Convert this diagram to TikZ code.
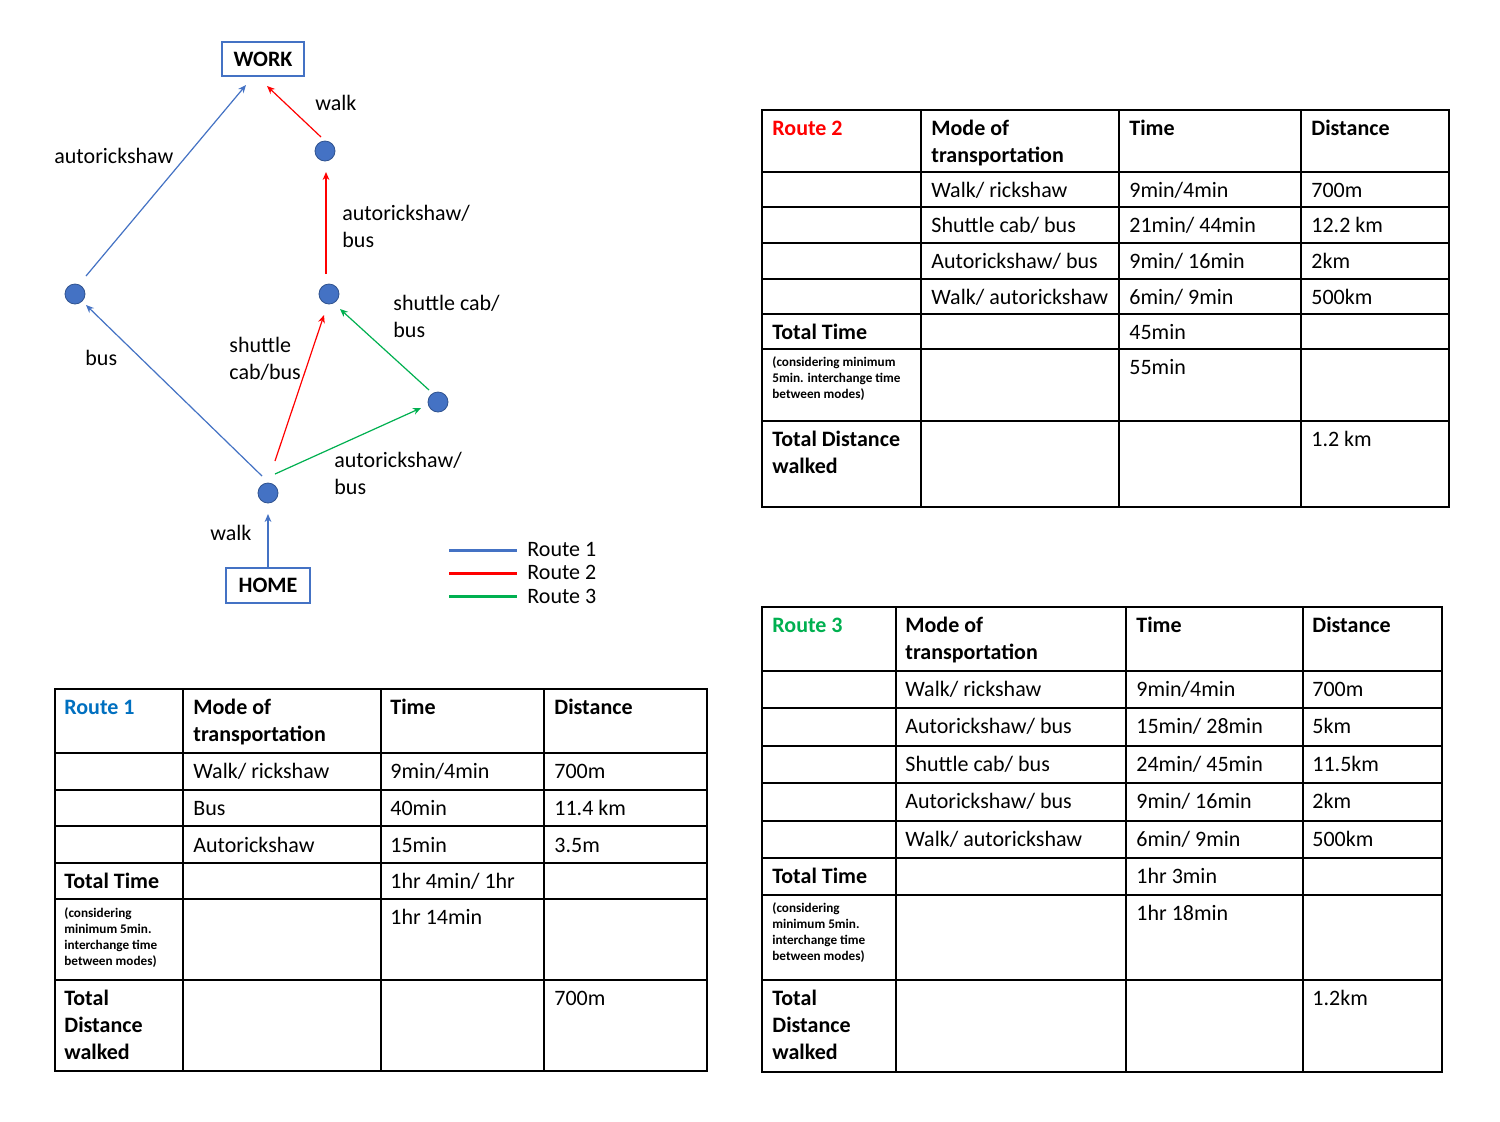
\documentclass[tikz,border=0pt]{standalone}
\usepackage{fontspec}
\setmainfont{Carlito}
\usetikzlibrary{arrows.meta,calc}
\definecolor{obl}{HTML}{4472C4}
\definecolor{cdark}{HTML}{2F528F}
\definecolor{rred}{HTML}{FF0000}
\definecolor{rgreen}{HTML}{00B050}
\definecolor{rblue}{HTML}{0070C0}
\tikzset{
 txt/.style={anchor=base west, inner sep=0pt, font=\fontsize{11}{13.5}\selectfont, align=left},
 btxt/.style={txt, font=\fontsize{11}{13.5}\selectfont\bfseries},
 stxt/.style={txt, font=\fontsize{6.6}{8}\selectfont\bfseries},
 hub/.style={circle, fill=obl, draw=cdark, line width=0.4pt, minimum size=10pt, inner sep=0pt},
 endbox/.style={draw=obl, line width=0.7pt, font=\fontsize{11}{13.5}\selectfont\bfseries, minimum width=41pt, minimum height=17pt, inner sep=0pt},
 conn/.style={line width=0.6pt, -{Stealth[length=4pt,width=3.4pt]}},
 tline/.style={line width=1pt, black, line cap=rect},
 legline/.style={line width=1.5pt},
}
% multi-line nodes: the base anchor sits on the LAST line's baseline
\newcommand\cellat[5][txt]{\node[#1] (#2) at (#3) {#4#5};}
\begin{document}
\begin{tikzpicture}[x=0.5pt,y=-0.5pt]
\useasboundingbox (0,0) rectangle (1500,1121);
\fill[white] (0,0) rectangle (1500,1121);

% ---------------- graph ----------------
\node[endbox] (WORK) at (263,59) {WORK};
\node[endbox, minimum width=42pt, minimum height=17.5pt] (HOME) at (268,585.5) {HOME};
\node[hub] (A) at (75,294) {};
\node[hub] (B) at (325,151) {};
\node[hub] (C) at (329,294) {};
\node[hub] (D) at (438,402) {};
\node[hub] (E) at (268,493) {};

\draw[conn, obl] (HOME.north) -- ($(E)+(0,21)$);
\draw[conn, obl] ($(E)+(-6,-17)$) -- ($(A)+(11,11)$);
\draw[conn, obl] ($(A)+(11,-18)$) -- ($(WORK)+(-17,26)$);
\draw[conn, rred] ($(E)+(7,-32)$) -- ($(C)+(-5,21)$);
\draw[conn, rgreen] ($(E)+(7,-19)$) -- ($(D)+(-17,6)$);
\draw[conn, rgreen] ($(D)+(-9,-12)$) -- ($(C)+(11,15)$);
\draw[conn, rred] ($(C)+(-3,-20)$) -- ($(B)+(1,21)$);
\draw[conn, rred] ($(B)+(-4,-14)$) -- ($(WORK)+(4,27)$);

\node[txt] (l1) at (315,110) {walk};
\node[txt] (l2) at (54,163) {autorickshaw};
\node[txt] (l3) at (342,247) {autorickshaw/\\bus};
\node[txt] (l4) at (393,337) {shuttle cab/\\bus};
\node[txt] (l5) at (85,365) {bus};
\node[txt] (l6) at (229,379) {shuttle\\cab/bus};
\node[txt] (l7) at (334,494) {autorickshaw/\\bus};
\node[txt] (l8) at (210,540) {walk};

% legend
\coordinate (g1a) at (449,550); \coordinate (g1b) at (517,550);
\coordinate (g2a) at (449,573); \coordinate (g2b) at (517,573);
\coordinate (g3a) at (449,596); \coordinate (g3b) at (517,596);
\draw[legline, obl] (g1a) -- (g1b);
\draw[legline, rred] (g2a) -- (g2b);
\draw[legline, rgreen] (g3a) -- (g3b);
\node[txt] (lg1) at (527,556) {Route 1};
\node[txt] (lg2) at (527,579) {Route 2};
\node[txt] (lg3) at (527,603) {Route 3};

% ---------------- Route 2 table ----------------
\foreach \x in {762,921,1119,1301,1449} \draw[tline] (\x,110) -- (\x,507);
\foreach \y in {110,172,207,243,279,314,349,421,507} \draw[tline] (762,\y) -- (1449,\y);
\cellat[btxt]{bh1}{772,135}{\color{rred}}{Route 2}
\cellat[btxt]{bh2}{931,162}{}{Mode of\\transportation}
\cellat[btxt]{bh3}{1129,135}{}{Time}
\cellat[btxt]{bh4}{1311,135}{}{Distance}
\cellat{b11}{931,197}{}{Walk/ rickshaw}
\cellat{b12}{1129,197}{}{9min/4min}
\cellat{b13}{1311,197}{}{700m}
\cellat{b21}{931,232}{}{Shuttle cab/ bus}
\cellat{b22}{1129,232}{}{21min/ 44min}
\cellat{b23}{1311,232}{}{12.2 km}
\cellat{b31}{931,268}{}{Autorickshaw/ bus}
\cellat{b32}{1129,268}{}{9min/ 16min}
\cellat{b33}{1311,268}{}{2km}
\cellat{b41}{931,304}{}{Walk/ autorickshaw}
\cellat{b42}{1129,304}{}{6min/ 9min}
\cellat{b43}{1311,304}{}{500km}
\cellat[btxt]{b51}{772,339}{}{Total Time}
\cellat{b52}{1129,339}{}{45min}
\cellat[stxt]{b61}{772,398}{}{(considering minimum\\5min. interchange time\\between modes)}
\cellat{b62}{1129,374}{}{55min}
\cellat[btxt]{b71}{772,473}{}{Total Distance\\walked}
\cellat{b72}{1311,446}{}{1.2 km}

% ---------------- Route 1 table ----------------
\foreach \x in {55,183,381,544,707} \draw[tline] (\x,689) -- (\x,1071);
\foreach \y in {689,753,790,826,863,899,980,1071} \draw[tline] (55,\y) -- (707,\y);
\cellat[btxt]{ah1}{64,714}{\color{rblue}}{Route 1}
\cellat[btxt]{ah2}{193,741}{}{Mode of\\transportation}
\cellat[btxt]{ah3}{390,714}{}{Time}
\cellat[btxt]{ah4}{554,714}{}{Distance}
\cellat{a11}{193,778}{}{Walk/ rickshaw}
\cellat{a12}{390,778}{}{9min/4min}
\cellat{a13}{554,778}{}{700m}
\cellat{a21}{193,815}{}{Bus}
\cellat{a22}{390,815}{}{40min}
\cellat{a23}{554,815}{}{11.4 km}
\cellat{a31}{193,852}{}{Autorickshaw}
\cellat{a32}{390,852}{}{15min}
\cellat{a33}{554,852}{}{3.5m}
\cellat[btxt]{a41}{64,888}{}{Total Time}
\cellat{a42}{390,888}{}{1hr 4min/ 1hr}
\cellat[stxt]{a51}{64,965}{}{(considering\\minimum 5min.\\interchange time\\between modes)}
\cellat{a52}{390,924}{}{1hr 14min}
\cellat[btxt]{a61}{64,1059}{}{Total\\Distance\\walked}
\cellat{a62}{554,1005}{}{700m}

% ---------------- Route 3 table ----------------
\foreach \x in {762,896,1126,1303,1442} \draw[tline] (\x,607) -- (\x,1072);
\foreach \y in {607,671,708,746,783,821,858,895,980,1072} \draw[tline] (762,\y) -- (1442,\y);
\cellat[btxt]{ch1}{772,632}{\color{rgreen}}{Route 3}
\cellat[btxt]{ch2}{905,659}{}{Mode of\\transportation}
\cellat[btxt]{ch3}{1136,632}{}{Time}
\cellat[btxt]{ch4}{1312,632}{}{Distance}
\cellat{c11}{905,696}{}{Walk/ rickshaw}
\cellat{c12}{1136,696}{}{9min/4min}
\cellat{c13}{1312,696}{}{700m}
\cellat{c21}{905,733}{}{Autorickshaw/ bus}
\cellat{c22}{1136,733}{}{15min/ 28min}
\cellat{c23}{1312,733}{}{5km}
\cellat{c31}{905,771}{}{Shuttle cab/ bus}
\cellat{c32}{1136,771}{}{24min/ 45min}
\cellat{c33}{1312,771}{}{11.5km}
\cellat{c41}{905,808}{}{Autorickshaw/ bus}
\cellat{c42}{1136,808}{}{9min/ 16min}
\cellat{c43}{1312,808}{}{2km}
\cellat{c51}{905,846}{}{Walk/ autorickshaw}
\cellat{c52}{1136,846}{}{6min/ 9min}
\cellat{c53}{1312,846}{}{500km}
\cellat[btxt]{c61}{772,883}{}{Total Time}
\cellat{c62}{1136,883}{}{1hr 3min}
\cellat[stxt]{c71}{772,960}{}{(considering\\minimum 5min.\\interchange time\\between modes)}
\cellat{c72}{1136,920}{}{1hr 18min}
\cellat[btxt]{c81}{772,1059}{}{Total\\Distance\\walked}
\cellat{c82}{1312,1005}{}{1.2km}
\end{tikzpicture}
\end{document}
